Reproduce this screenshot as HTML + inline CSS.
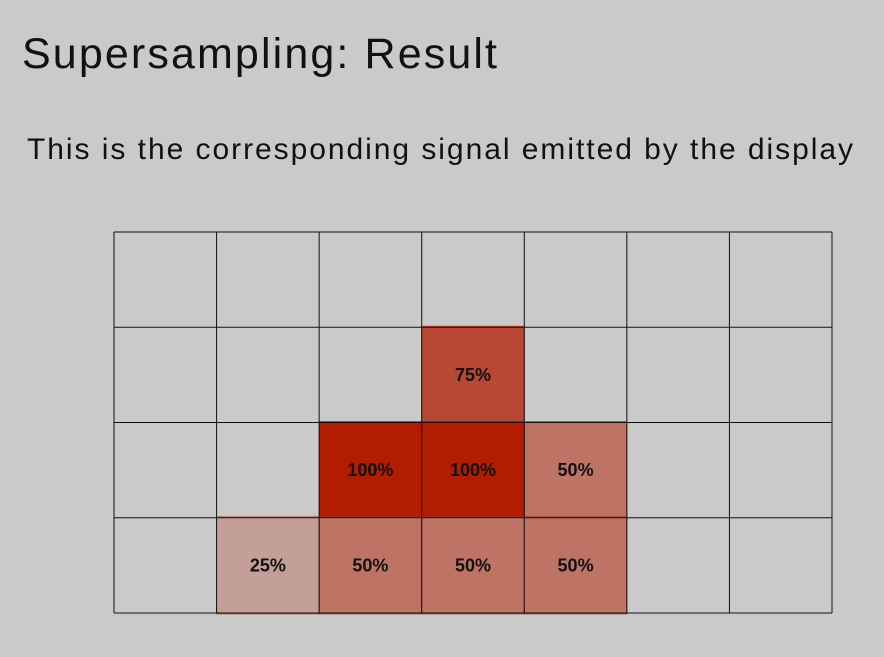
<!DOCTYPE html>
<html><head><meta charset="utf-8"><style>
body{margin:0;background:#cacaca;width:884px;height:652px;overflow:hidden;font-family:"Liberation Sans",sans-serif;}
</style></head><body>
<svg width="884" height="652">
<text x="22" y="68" font-size="43" fill="#111" textLength="475" lengthAdjust="spacing" font-family="Liberation Sans, sans-serif">Supersampling: Result</text>
<text x="27" y="159" font-size="30" fill="#111" textLength="826" lengthAdjust="spacing" font-family="Liberation Sans, sans-serif">This is the corresponding signal emitted by the display</text>
<g id="cells"></g>
<g id="grid"></g>
<g id="labels"></g>
</svg>
<script>
const nCols = 7;
const nRows = 4;
const cellRows = [1, 2, 2, 2, 3, 3, 3, 3];
const cellCols = [3, 2, 3, 4, 1, 2, 3, 4];
const cellValues = [75, 100, 100, 50, 25, 50, 50, 50];
const X0 = 114, X1 = 832, Y0 = 232, Y1 = 613;
const cw = (X1 - X0) / nCols, ch = (Y1 - Y0) / nRows;
const xs = c => X0 + c * cw, ys = r => Y0 + r * ch;
const g = document.getElementById('grid');
const gc = document.getElementById('cells');
const gl = document.getElementById('labels');
const NS = 'http://www.w3.org/2000/svg';
function col(v){const a=v/100;const m=(t,b)=>Math.round(a*t+(1-a)*b);return `rgb(${m(178,202)},${m(28,202)},${m(0,202)})`;}
cellValues.forEach((v, i) => {
  const x = xs(cellCols[i]), y = ys(cellRows[i]);
  const rc = document.createElementNS(NS,'rect');
  rc.setAttribute('x',x);rc.setAttribute('y',y-1);rc.setAttribute('width',cw);rc.setAttribute('height',ch+2);
  rc.setAttribute('fill',col(v));rc.setAttribute('stroke','rgba(150,20,0,0.5)');rc.setAttribute('stroke-width','1');
  
  
  gc.appendChild(rc);
  const t = document.createElementNS(NS,'text');
  t.setAttribute('x',x+cw/2);t.setAttribute('y',y+ch/2+6);t.setAttribute('text-anchor','middle');
  t.setAttribute('font-size','18');t.setAttribute('font-weight','bold');t.setAttribute('fill','#111');
  t.textContent = v + '%';
  
  
  gl.appendChild(t);
});
for (let r = 0; r <= nRows; r++) {
  const l = document.createElementNS(NS,'line');
  l.setAttribute('x1',X0);l.setAttribute('x2',X1);l.setAttribute('y1',ys(r));l.setAttribute('y2',ys(r));
  l.setAttribute('stroke','#111');l.setAttribute('stroke-width','1');
  
  
  g.appendChild(l);
}
for (let c = 0; c <= nCols; c++) {
  const l = document.createElementNS(NS,'line');
  l.setAttribute('y1',Y0);l.setAttribute('y2',Y1);l.setAttribute('x1',xs(c));l.setAttribute('x2',xs(c));
  l.setAttribute('stroke','#111');l.setAttribute('stroke-width','1');
  
  
  g.appendChild(l);
}
</script>
</body></html>
